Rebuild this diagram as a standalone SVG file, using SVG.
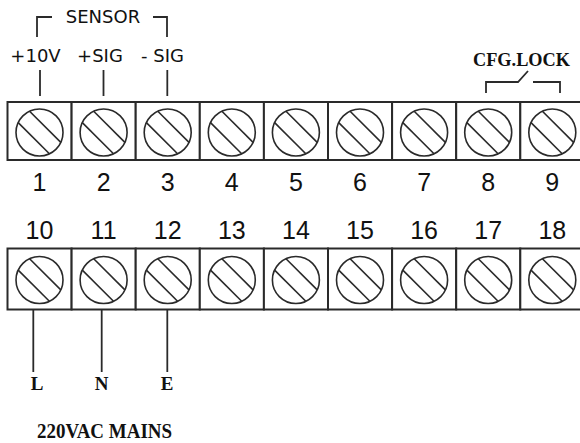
<svg xmlns="http://www.w3.org/2000/svg" width="580" height="443" viewBox="0 0 580 443">
<style>
.cell{fill:#fff;stroke:#2a2a2a;stroke-width:2}
.sc{fill:none;stroke:#2a2a2a;stroke-width:1.6}
.num{font-family:"Liberation Sans",Arial,sans-serif;font-size:25px;fill:#111;text-anchor:middle}
.lbl{font-family:"DejaVu Sans",sans-serif;font-size:18px;fill:#111;text-anchor:middle}
.ser{font-family:"Liberation Serif","Times New Roman",serif;font-weight:bold;fill:#111}
.wire{fill:none;stroke:#2a2a2a;stroke-width:1.8}
</style>
<defs>
<g id="screw">
<circle class="sc" cx="0" cy="0" r="23.5"/>
<line class="sc" x1="-21.3" y1="-9.9" x2="9.9" y2="21.3"/>
<line class="sc" x1="-9.9" y1="-21.3" x2="21.3" y2="9.9"/>
</g>
</defs>
<rect width="580" height="443" fill="#fff"/>

<g id="t1"><rect class="cell" x="7.5" y="102" width="64.1" height="58"/><use href="#screw" x="39.5" y="132.5"/><text class="num" x="39.5" y="191">1</text></g>
<g id="t2"><rect class="cell" x="71.6" y="102" width="64.1" height="58"/><use href="#screw" x="103.6" y="132.5"/><text class="num" x="103.6" y="191">2</text></g>
<g id="t3"><rect class="cell" x="135.7" y="102" width="64.1" height="58"/><use href="#screw" x="167.7" y="132.5"/><text class="num" x="167.7" y="191">3</text></g>
<g id="t4"><rect class="cell" x="199.8" y="102" width="64.1" height="58"/><use href="#screw" x="231.8" y="132.5"/><text class="num" x="231.8" y="191">4</text></g>
<g id="t5"><rect class="cell" x="263.9" y="102" width="64.1" height="58"/><use href="#screw" x="295.9" y="132.5"/><text class="num" x="295.9" y="191">5</text></g>
<g id="t6"><rect class="cell" x="328" y="102" width="64.1" height="58"/><use href="#screw" x="360" y="132.5"/><text class="num" x="360" y="191">6</text></g>
<g id="t7"><rect class="cell" x="392.1" y="102" width="64.1" height="58"/><use href="#screw" x="424.1" y="132.5"/><text class="num" x="424.1" y="191">7</text></g>
<g id="t8"><rect class="cell" x="456.2" y="102" width="64.1" height="58"/><use href="#screw" x="488.2" y="132.5"/><text class="num" x="488.2" y="191">8</text></g>
<g id="t9"><rect class="cell" x="520.3" y="102" width="64.1" height="58"/><use href="#screw" x="552.3" y="132.5"/><text class="num" x="552.3" y="191">9</text></g>

<g id="t10"><rect class="cell" x="7.5" y="248.5" width="64.1" height="61"/><use href="#screw" x="39.5" y="280"/><text class="num" x="39.5" y="239">10</text></g>
<g id="t11"><rect class="cell" x="71.6" y="248.5" width="64.1" height="61"/><use href="#screw" x="103.6" y="280"/><text class="num" x="103.6" y="239">11</text></g>
<g id="t12"><rect class="cell" x="135.7" y="248.5" width="64.1" height="61"/><use href="#screw" x="167.7" y="280"/><text class="num" x="167.7" y="239">12</text></g>
<g id="t13"><rect class="cell" x="199.8" y="248.5" width="64.1" height="61"/><use href="#screw" x="231.8" y="280"/><text class="num" x="231.8" y="239">13</text></g>
<g id="t14"><rect class="cell" x="263.9" y="248.5" width="64.1" height="61"/><use href="#screw" x="295.9" y="280"/><text class="num" x="295.9" y="239">14</text></g>
<g id="t15"><rect class="cell" x="328" y="248.5" width="64.1" height="61"/><use href="#screw" x="360" y="280"/><text class="num" x="360" y="239">15</text></g>
<g id="t16"><rect class="cell" x="392.1" y="248.5" width="64.1" height="61"/><use href="#screw" x="424.1" y="280"/><text class="num" x="424.1" y="239">16</text></g>
<g id="t17"><rect class="cell" x="456.2" y="248.5" width="64.1" height="61"/><use href="#screw" x="488.2" y="280"/><text class="num" x="488.2" y="239">17</text></g>
<g id="t18"><rect class="cell" x="520.3" y="248.5" width="64.1" height="61"/><use href="#screw" x="552.3" y="280"/><text class="num" x="552.3" y="239">18</text></g>

<g id="connectors">
<path class="wire" d="M37,37 V17 H52"/>
<path class="wire" d="M153,17 H167 V37"/>
<line class="wire" x1="40" y1="70" x2="40" y2="96"/>
<line class="wire" x1="103.5" y1="70" x2="103.5" y2="96"/>
<line class="wire" x1="167.3" y1="70" x2="167.3" y2="96"/>
<path class="wire" d="M486,93 V82 H518 L528,71"/>
<path class="wire" d="M533,82 H560 V93"/>
<line class="wire" x1="33.3" y1="310" x2="33.3" y2="372"/>
<line class="wire" x1="101.7" y1="310" x2="101.7" y2="372"/>
<line class="wire" x1="167.3" y1="310" x2="167.3" y2="372"/>
</g>

<g id="labels">
<text class="lbl" x="103" y="23">SENSOR</text>
<text class="lbl" x="35.5" y="62">+10V</text>
<text class="lbl" x="100" y="62">+SIG</text>
<text class="lbl" x="162.5" y="62">- SIG</text>
<text class="ser" x="473" y="66" font-size="19" textLength="97" lengthAdjust="spacingAndGlyphs">CFG.LOCK</text>
<text class="ser" x="37" y="390" font-size="19" text-anchor="middle">L</text>
<text class="ser" x="101.5" y="390" font-size="19" text-anchor="middle">N</text>
<text class="ser" x="167" y="390" font-size="19" text-anchor="middle">E</text>
<text class="ser" x="37" y="438" font-size="21" textLength="135" lengthAdjust="spacingAndGlyphs">220VAC MAINS</text>
</g>
</svg>
